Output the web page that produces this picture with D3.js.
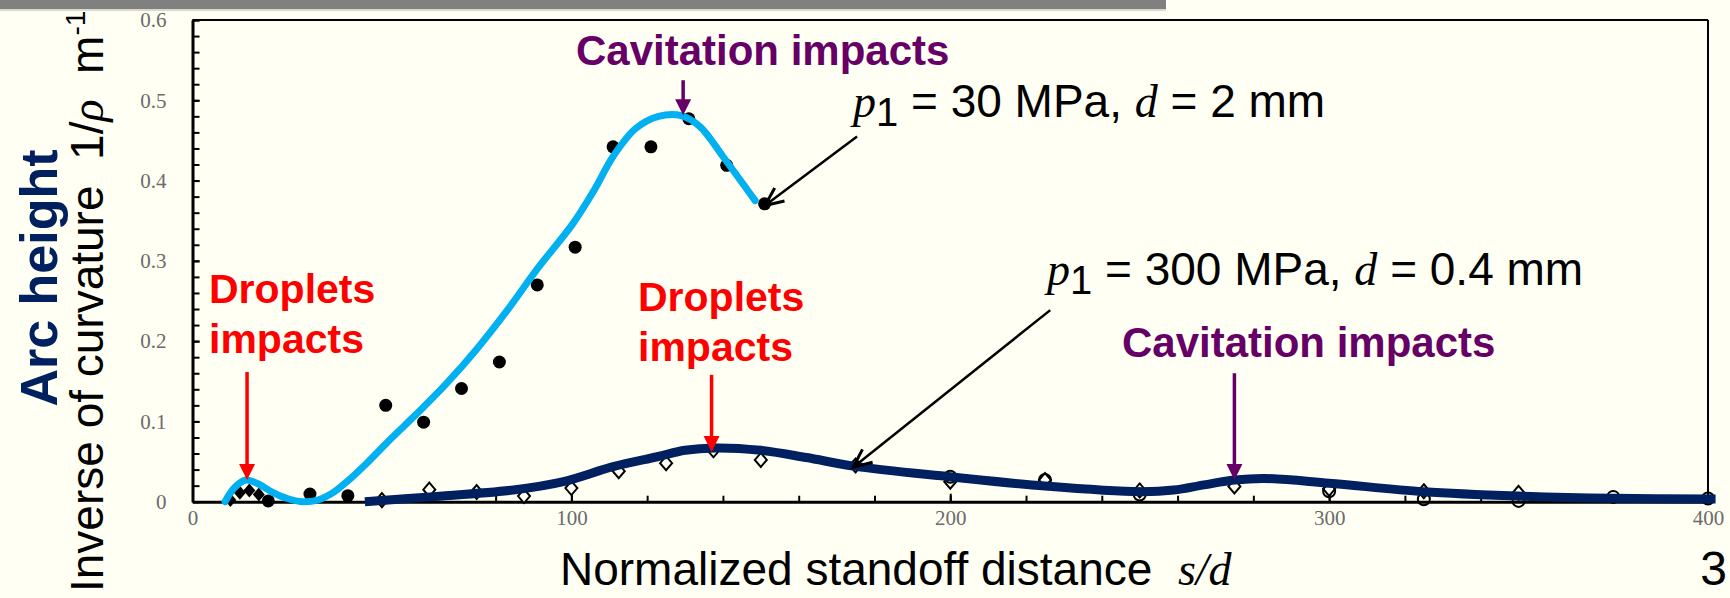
<!DOCTYPE html>
<html>
<head>
<meta charset="utf-8">
<title></title>
<script src="https://cdnjs.cloudflare.com/ajax/libs/d3/7.8.5/d3.min.js"></script>
<style type="text/css">
    html, body{
        margin: 0px;
        padding: 0px;
        background: #fffff3;
        overflow: hidden;
    }
    svg{ display: block; }
    .sans{ font-family: "Liberation Sans", Arial, sans-serif; }
    .serif{ font-family: "Liberation Serif", "Times New Roman", serif; }
    .tick text{ font-family: "Liberation Serif", serif; font-size: 21px; fill: #6b6b6b; }
    text{ white-space: pre; }
</style>
</head>
<body>
<svg id="chart" width="1730" height="598"></svg>
<script type="text/javascript">

    // axis ticks
    var xTicks = [0, 100, 200, 300, 400];
    var yTicks = [0, 0.1, 0.2, 0.3, 0.4, 0.5, 0.6];
    var yTickLabels = ["0", "0.1", "0.2", "0.3", "0.4", "0.5", "0.6"];

    // p1 = 30 MPa, d = 2 mm  (filled markers + fit)
    var s30Diamonds = [[10, 0.002], [12.5, 0.011], [15, 0.014], [17.5, 0.009]];
    var s30Dots = [[20, 0.001], [31, 0.0096], [41, 0.0075], [51, 0.12], [61, 0.099],
                   [71, 0.141], [81, 0.174], [91, 0.27], [101, 0.317], [111, 0.442],
                   [121, 0.442], [131, 0.477], [141, 0.419], [151, 0.371]];
    var s30Fit = [[8.6, 0], [11, 0.017], [14, 0.027], [17, 0.023], [21, 0.012], [25, 0.004],
                  [29, 0], [33, 0.002], [37, 0.011], [41, 0.026], [46, 0.048], [51, 0.072],
                  [56, 0.095], [61, 0.118], [67, 0.147], [75, 0.19], [83, 0.238], [91, 0.29],
                  [100.5, 0.347], [106, 0.388], [111, 0.43], [117, 0.465], [123, 0.48],
                  [129, 0.481], [134, 0.467], [140, 0.43], [148.5, 0.375]];

    // p1 = 300 MPa, d = 0.4 mm  (open markers + fit)
    var s300Diamonds = [[50, 0.002], [62.5, 0.015], [75, 0.012], [87.5, 0.007], [100, 0.017],
                        [112.5, 0.038], [125, 0.048], [137.5, 0.064], [150, 0.052], [175, 0.045],
                        [200, 0.025], [225, 0.027], [250, 0.014], [275, 0.019], [300, 0.016],
                        [325, 0.013], [350, 0.011]];
    var s300Circles = [[200, 0.031], [225, 0.027], [250, 0.009], [300, 0.013], [325, 0.003],
                       [350, 0.001], [375, 0.006], [400, 0.004]];
    var s300Fit = [[45.5, 0], [62.7, 0.006], [84.7, 0.0146], [97.9, 0.025], [111, 0.0436],
                   [122.7, 0.056], [130, 0.064], [138, 0.067], [150, 0.064], [162, 0.055],
                   [175, 0.044], [200, 0.031], [225, 0.0195], [250, 0.0125], [259, 0.0145],
                   [267, 0.021], [275, 0.027], [283, 0.029], [300, 0.023], [325, 0.0125],
                   [350, 0.0071], [375, 0.0042], [402, 0.0034]];

    var svg = d3.select("#chart");

    var x = d3.scaleLinear().domain([0, 400]).range([192.5, 1708]);
    var y = d3.scaleLinear().domain([0, 0.6]).range([501.7, 20]);

    // slide header bar
    svg.append("rect").attr("x", 0).attr("y", 0).attr("width", 1166).attr("height", 9).attr("fill", "#808080");
    svg.append("rect").attr("x", 0).attr("y", 9).attr("width", 1166).attr("height", 2).attr("fill", "#d9d9cf");

    // frame top / right
    svg.append("line").attr("x1", x(0)).attr("x2", x(400)).attr("y1", y(0.6)).attr("y2", y(0.6))
        .attr("stroke", "#000").attr("stroke-width", 2);
    svg.append("line").attr("x1", x(400)).attr("x2", x(400)).attr("y1", y(0.6)).attr("y2", y(0))
        .attr("stroke", "#000").attr("stroke-width", 2);

    // minor ticks
    var yAxisMinor = d3.axisLeft(y).tickValues(d3.range(0, 0.601, 0.02)).tickSize(-7).tickSizeOuter(0).tickFormat("");
    svg.append("g").attr("transform", "translate(" + x(0) + ",0)").call(yAxisMinor)
        .call(g => g.select(".domain").remove())
        .selectAll("line").attr("stroke-width", 2);
    var xAxisMinor = d3.axisBottom(x).tickValues(d3.range(0, 401, 20)).tickSize(-6).tickSizeOuter(0).tickFormat("");
    svg.append("g").attr("transform", "translate(0," + y(0) + ")").call(xAxisMinor)
        .call(g => g.select(".domain").remove())
        .selectAll("line").attr("stroke-width", 2);

    // main axes
    var yAxis = d3.axisLeft(y).tickValues(yTicks).tickSize(-7).tickSizeOuter(0).tickPadding(26)
        .tickFormat((d, i) => yTickLabels[i]);
    var gy = svg.append("g").attr("transform", "translate(" + x(0) + ",0)").call(yAxis);
    gy.select(".domain").attr("stroke-width", 3);
    gy.selectAll("line").attr("stroke-width", 2);

    var xAxis = d3.axisBottom(x).tickValues(xTicks).tickSize(-8).tickSizeOuter(0).tickPadding(8)
        .tickFormat(d3.format("d"));
    var gx = svg.append("g").attr("transform", "translate(0," + y(0) + ")").call(xAxis);
    gx.select(".domain").attr("stroke-width", 3);
    gx.selectAll("line").attr("stroke-width", 2);
    gx.selectAll(".tick text").attr("dy", "0.71em");

    // markers
    function diamond(s){ return "M0," + (-s) + "L" + (s - 1) + ",0L0," + s + "L" + (1 - s) + ",0Z"; }

    svg.append("g").selectAll("path").data(s300Diamonds).join("path")
        .attr("transform", d => "translate(" + x(d[0]) + "," + y(d[1]) + ")")
        .attr("d", diamond(7)).attr("fill", "#fffff3").attr("stroke", "#000").attr("stroke-width", 2);
    svg.append("g").selectAll("circle").data(s300Circles).join("circle")
        .attr("cx", d => x(d[0])).attr("cy", d => y(d[1])).attr("r", 6)
        .attr("fill", "none").attr("stroke", "#000").attr("stroke-width", 2);

    svg.append("g").selectAll("path").data(s30Diamonds).join("path")
        .attr("transform", d => "translate(" + x(d[0]) + "," + y(d[1]) + ")")
        .attr("d", diamond(7)).attr("fill", "#000");
    svg.append("g").selectAll("circle").data(s30Dots).join("circle")
        .attr("cx", d => x(d[0])).attr("cy", d => y(d[1])).attr("r", 6.5).attr("fill", "#000");

    // fitted curves
    var line = d3.line().x(d => x(d[0])).y(d => y(d[1])).curve(d3.curveCatmullRom.alpha(0.5));
    svg.append("path").datum(s300Fit).attr("d", line)
        .attr("fill", "none").attr("stroke", "#002060").attr("stroke-width", 9);
    svg.append("path").datum(s30Fit).attr("d", line)
        .attr("fill", "none").attr("stroke", "#00b0f0").attr("stroke-width", 7).attr("stroke-linecap", "round");

    // annotation arrows
    function headArrow(xv, y0, y1, color){
        var px = x(xv), ta = y(y0), tip = y(y1);
        svg.append("line").attr("x1", px).attr("x2", px).attr("y1", ta).attr("y2", tip - 14)
            .attr("stroke", color).attr("stroke-width", 3.5);
        svg.append("path").attr("d", "M" + (px - 8) + "," + (tip - 16) + "L" + (px + 8) + "," + (tip - 16) + "L" + px + "," + tip + "Z")
            .attr("fill", color);
    }
    headArrow(14.4, 0.1615, 0.027, "#ff0000");
    headArrow(137, 0.158, 0.062, "#ff0000");
    headArrow(129.5, 0.525, 0.4814, "#660066");
    headArrow(275, 0.160, 0.027, "#660066");

    function lineArrow(x0, y0, x1, y1){
        var ax = x(x0), ay = y(y0), bx = x(x1), by = y(y1);
        var ang = Math.atan2(ay - by, ax - bx), L = 20, w = 0.42;
        svg.append("line").attr("x1", ax).attr("y1", ay).attr("x2", bx).attr("y2", by)
            .attr("stroke", "#000").attr("stroke-width", 2.5);
        svg.append("path")
            .attr("d", "M" + (bx + L * Math.cos(ang + w)) + "," + (by + L * Math.sin(ang + w)) +
                       "L" + bx + "," + by +
                       "L" + (bx + L * Math.cos(ang - w)) + "," + (by + L * Math.sin(ang - w)))
            .attr("fill", "none").attr("stroke", "#000").attr("stroke-width", 3);
    }
    lineArrow(175.4, 0.455, 151.1, 0.369);
    lineArrow(226.4, 0.2386, 174.4, 0.043);

    // annotation texts
    function boldLabel(lines, px, py, color, size){
        var t = svg.append("text").attr("class", "sans").attr("x", px).attr("y", py)
            .attr("font-weight", "bold").attr("font-size", size).attr("fill", color);
        lines.forEach((s, i) => t.append("tspan").attr("x", px).attr("dy", i ? 50 : 0).text(s));
    }
    boldLabel(["Cavitation impacts"], 576, 65, "#660066", 42);
    boldLabel(["Cavitation impacts"], 1122, 357, "#660066", 42);
    boldLabel(["Droplets", "impacts"], 209, 303, "#ff0000", 41);
    boldLabel(["Droplets", "impacts"], 638, 311, "#ff0000", 41);

    function condLabel(px, py, pre, post){
        var t = svg.append("text").attr("x", px).attr("y", py).attr("font-size", 46).attr("fill", "#000");
        t.append("tspan").attr("class", "serif").attr("font-style", "italic").text("p");
        t.append("tspan").attr("class", "sans").attr("dy", 9).attr("font-size", 40).text("1");
        t.append("tspan").attr("class", "sans").attr("dy", -9).text(pre);
        t.append("tspan").attr("class", "serif").attr("font-style", "italic").text("d");
        t.append("tspan").attr("class", "sans").text(post);
    }
    condLabel(853, 117, " = 30 MPa, ", " = 2 mm");
    condLabel(1047, 285, " = 300 MPa, ", " = 0.4 mm");

    // axis titles
    var xt = svg.append("text").attr("x", 560).attr("y", 585).attr("font-size", 46).attr("fill", "#000");
    xt.append("tspan").attr("class", "sans").text("Normalized standoff distance  ");
    xt.append("tspan").attr("class", "serif").attr("font-style", "italic").text("s/d");

    var yt = svg.append("text").attr("transform", "translate(103,592) rotate(-90)")
        .attr("font-size", 46).attr("fill", "#000");
    yt.append("tspan").attr("class", "sans").text("Inverse of curvature  1/");
    yt.append("tspan").attr("class", "serif").attr("font-style", "italic").text("ρ");
    yt.append("tspan").attr("class", "sans").text("  m");
    yt.append("tspan").attr("class", "sans").attr("font-size", 28).attr("dy", -18).text("-1");

    svg.append("text").attr("class", "sans").attr("transform", "translate(57,278) rotate(-90)")
        .attr("text-anchor", "middle").attr("font-weight", "bold").attr("font-size", 52)
        .attr("fill", "#002060").text("Arc height");

    // slide page number
    svg.append("text").attr("class", "sans").attr("x", 1727).attr("y", 585)
        .attr("text-anchor", "end").attr("font-size", 48).attr("fill", "#000").text("3");

</script>
</body>
</html>
